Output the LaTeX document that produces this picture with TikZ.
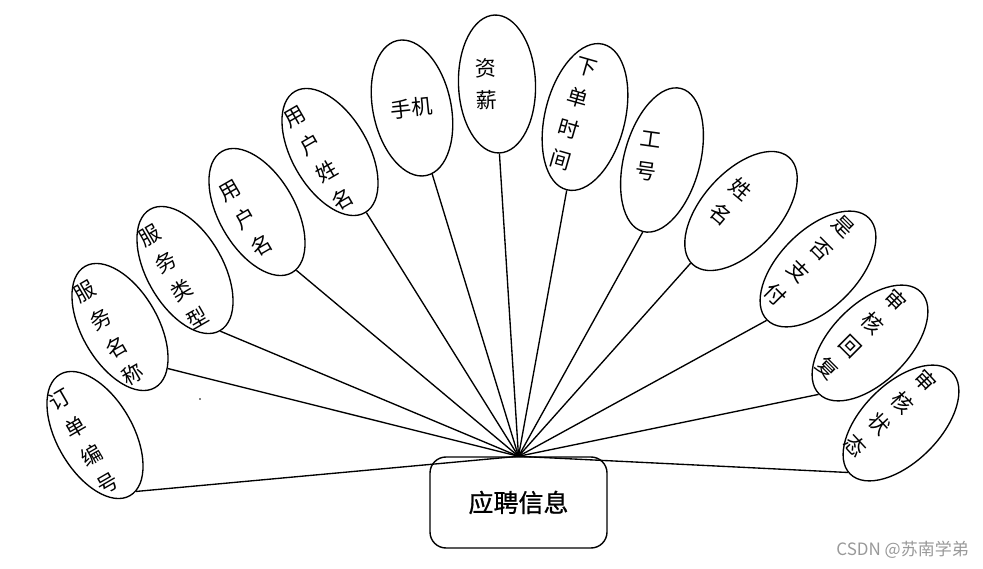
\documentclass[tikz,border=0pt]{standalone}
\usepackage{fontspec}
\newfontfamily\cjk{Noto Sans CJK SC}
\newfontfamily\cjkb[FakeBold=0.8]{Noto Sans CJK SC}
\usetikzlibrary{shapes.geometric,calc}
\begin{document}
\begin{tikzpicture}[x=1pt,y=-1pt,
  attrell/.style={draw, ellipse, line width=1.35pt, inner sep=0pt},
  attrtxt/.style={font=\cjk\fontsize{21}{32}\selectfont, align=center, inner sep=0pt},
  link/.style={line width=1.35pt}]
\useasboundingbox (0,0) rectangle (983,569);

% central entity
\node[draw, rounded corners=16pt, line width=1.4pt, minimum width=177pt, minimum height=91pt,
      inner sep=0pt, font=\cjkb\fontsize{25}{25}\selectfont] (main) at (518.5,502.5) {应聘信息};

% attribute ellipses
\node[attrell, minimum width=76pt, minimum height=140pt, rotate=30] (e1) at (95,435) {};
\node[attrtxt, rotate=30] (e1t) at ($(e1)+(210:13pt)$) {订\\单\\编\\号};

\node[attrell, minimum width=76pt, minimum height=140pt, rotate=30] (e2) at (120,327) {};
\node[attrtxt, rotate=30] (e2t) at ($(e2)+(210:13pt)$) {服\\务\\名\\称};

\node[attrell, minimum width=76pt, minimum height=140pt, rotate=30] (e3) at (185,270) {};
\node[attrtxt, rotate=30] (e3t) at ($(e3)+(210:13pt)$) {服\\务\\类\\型};

\node[attrell, minimum width=76pt, minimum height=140pt, rotate=30] (e4) at (257,212) {};
\node[attrtxt, rotate=30] (e4t) at ($(e4)+(210:13pt)$) {用\\户\\名};

\node[attrell, minimum width=76pt, minimum height=140pt, rotate=30] (e5) at (330,152) {};
\node[attrtxt, rotate=30] (e5t) at ($(e5)+(210:13pt)$) {用\\户\\姓\\名};

\node[attrell, minimum width=78pt, minimum height=138pt, rotate=12] (e6) at (412,108) {};
\node[attrtxt, rotate=6] (e6t) at (e6) {手机};

\node[attrell, minimum width=77pt, minimum height=138pt, rotate=2] (e7) at (497,84) {};
\node[attrtxt, rotate=2] (e7t) at ($(e7)+(182:11pt)$) {资\\薪};

\node[attrell, minimum width=80pt, minimum height=150pt, rotate=-14] (e8) at (585,117) {};
\node[attrtxt, rotate=-16] (e8t) at ($(e8)+(166:12pt)$) {下\\单\\时\\间};

\node[attrell, minimum width=76pt, minimum height=148pt, rotate=-15] (e9) at (662,160) {};
\node[attrtxt, rotate=-8] (e9t) at ($(e9)+(165:14pt)$) {工\\号};

\node[attrell, minimum width=78pt, minimum height=144pt, rotate=-42] (e10) at (741,211) {};
\node[attrtxt, rotate=-40] (e10t) at ($(e10)+(138:14pt)$) {姓\\名};

\node[attrell, minimum width=78pt, minimum height=144pt, rotate=-45] (e11) at (818,269) {};
\node[attrtxt, rotate=-45] (e11t) at ($(e11)+(135:12pt)$) {是\\否\\支\\付};

\node[attrell, minimum width=78pt, minimum height=144pt, rotate=-45] (e12) at (870,343) {};
\node[attrtxt, rotate=-45] (e12t) at ($(e12)+(135:12pt)$) {审\\核\\回\\复};

\node[attrell, minimum width=78pt, minimum height=144pt, rotate=-45] (e13) at (901,423) {};
\node[attrtxt, rotate=-47] (e13t) at ($(e13)+(135:14pt)$) {审\\核\\状\\态};

% connectors
\draw[link] (e1.-84)  -- (main.north);
\draw[link] (e2.-71)  -- (main.north);
\draw[link] (e3.-90)  -- (main.north);
\draw[link] (e4.-86)  -- (main.north);
\draw[link] (e5.-89)  -- (main.north);
\draw[link] (e6.-85)  -- (main.north);
\draw[link] (e7.-90)  -- (main.north);
\draw[link] (e8.-90)  -- (main.north);
\draw[link] (e9.-90)  -- (main.north);
\draw[link] (e10.-92) -- (main.north);
\draw[link] (e11.-90) -- (main.north);
\draw[link] (e12.-90) -- (main.north);
\draw[link] (e13.-92) -- (main.north);

% stray dot
\fill (200,399) circle (0.9pt);

% watermark
\node[font=\cjk\fontsize{17}{17}\selectfont, text=black!40, anchor=east, inner sep=0pt] (wm) at (969,550) {CSDN @苏南学弟};
\end{tikzpicture}
\end{document}
